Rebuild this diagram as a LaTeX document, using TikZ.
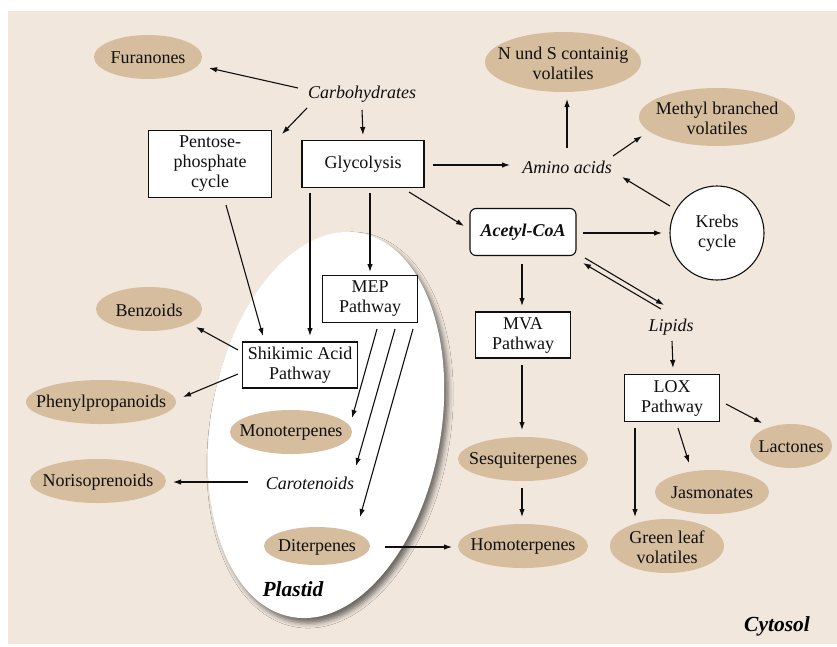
\documentclass[tikz,border=0pt]{standalone}
\usepackage{fontspec}
\setmainfont{Liberation Serif}
\usetikzlibrary{shapes.geometric,arrows.meta,calc,shadows.blur}
\definecolor{bgc}{RGB}{241,231,221}
\definecolor{prodc}{RGB}{213,189,158}
\definecolor{txtc}{RGB}{15,15,15}
\newcommand\diafont{\fontsize{18}{20}\selectfont}
\newcommand\bigfont{\fontsize{21.5}{24}\selectfont}
\tikzset{
 prod/.style={ellipse, fill=prodc, inner sep=0pt},
 ptext/.style={inner sep=0pt, align=center, font=\diafont, text=txtc},
 pbox/.style={rectangle, draw=txtc, fill=white, line width=1.1pt, inner sep=0pt, align=center, font=\diafont, text=txtc},
 lab/.style={inner sep=1pt, font=\diafont\itshape, text=txtc},
 region/.style={inner sep=1pt, font=\bigfont\bfseries\itshape, text=black},
 arr/.style={-{Latex[length=8pt,width=5.5pt]}, line width=1.1pt, draw=txtc},
}
% #1 name, #2 position, #3 width, #4 height, #5 text
\newcommand\prodnode[5]{%
  \node[prod, minimum width=#3, minimum height=#4] (#1) at #2 {};
  \node[ptext] (#1-t) at ($(#1)+(0,1)$) {#5};}
\begin{document}
\begin{tikzpicture}[x=1pt,y=-1pt]
\useasboundingbox (0,0) rectangle (837,646);
\fill[white] (0,0) rectangle (837,646);
\fill[bgc] (8,11) rectangle (837,644);
% plastid
\node[ellipse, fill=white, minimum width=230, minimum height=390, inner sep=0pt, rotate=-10,
  blur shadow={shadow xshift=4pt, shadow yshift=-5pt, shadow blur radius=5pt, shadow opacity=55}] (plastidshape) at (326,425) {};
\node[region] (plastid) at (293,589) {Plastid};
% nodes
\prodnode{furan}{(148,57)}{108}{44}{Furanones}
\node[lab] (carb) at (362,94) {Carbohydrates};
\prodnode{nands}{(563,62)}{156}{60}{N und S containig\\volatiles}
\prodnode{methyl}{(717,117)}{156}{58}{Methyl branched\\volatiles}
\node[pbox, minimum width=123, minimum height=67] (pent) at (210,164) {Pentose-\\phosphate\\cycle};
\node[pbox, minimum width=122, minimum height=47] (glyc) at (363,164) {Glycolysis};
\node[lab] (amino) at (567,167) {Amino acids};
\node[circle, draw=txtc, fill=white, line width=1.1pt, minimum size=94, inner sep=0pt, align=center, font=\diafont, text=txtc] (krebs) at (717,233) {Krebs\\cycle};
\node[pbox, rounded corners=6pt, minimum width=106, minimum height=47, font=\diafont\bfseries\itshape] (acetyl) at (523,232) {Acetyl-CoA};
\node[pbox, minimum width=95, minimum height=47] (mep) at (370,299) {MEP\\Pathway};
\node[pbox, minimum width=115, minimum height=46] (shik) at (300,365) {Shikimic Acid\\Pathway};
\prodnode{benz}{(149,309)}{106}{44}{Benzoids}
\prodnode{phen}{(101,402)}{150}{44}{Phenylpropanoids}
\prodnode{mono}{(291,432)}{122}{44}{Monoterpenes}
\node[lab] (carot) at (310,483) {Carotenoids};
\prodnode{noris}{(98,481)}{136}{44}{Norisoprenoids}
\prodnode{diter}{(317,546)}{106}{38}{Diterpenes}
\node[pbox, minimum width=95, minimum height=46] (mva) at (523,335) {MVA\\Pathway};
\node[lab] (lipids) at (671,327) {Lipids};
\node[pbox, minimum width=95, minimum height=47] (lox) at (672,398) {LOX\\Pathway};
\prodnode{sesq}{(523,459)}{130}{44}{Sesquiterpenes}
\prodnode{homo}{(523,546)}{130}{44}{Homoterpenes}
\prodnode{lact}{(791,446)}{82}{44}{Lactones}
\prodnode{jasm}{(712,492)}{114}{44}{Jasmonates}
\prodnode{green}{(667,546)}{114}{54}{Green leaf\\volatiles}
\node[region] (cytosol) at (777,626) {Cytosol};
% connectors
\draw[arr] ($(carb)+(-64,-6)$) -- ($(furan)+(61,11)$);
\draw[arr] ($(carb)+(-55,14)$) -- ($(pent)+(72,-30)$);
\draw[arr] ($(carb)+(0,16)$) -- ($(glyc)+(0,-29)$);
\draw[arr] ($(glyc)+(70,1)$) -- ($(amino)+(-57,-2)$);
\draw[arr] ($(amino)+(0,-19)$) -- ($(nands)+(4,37)$);
\draw[arr] ($(amino)+(46,-11)$) -- ($(methyl)+(-75,19)$);
\draw[arr] ($(krebs)+(-47,-27)$) -- ($(amino)+(55,10)$);
\draw[arr] ($(glyc)+(46,28)$) -- ($(acetyl)+(-59,-6)$);
\draw[arr] ($(acetyl)+(60,1)$) -- ($(krebs)+(-55,0)$);
\draw[arr] ($(acetyl)+(62,26)$) -- ($(lipids)+(-7,-22)$);
\draw[arr] ($(lipids)+(-10,-18)$) -- ($(acetyl)+(60,31)$);
\draw[arr] ($(lipids)+(1,14)$) -- ($(lox)+(1,-30)$);
\draw[arr] ($(acetyl)+(-1,32)$) -- ($(mva)+(-1,-29)$);
\draw[arr] ($(mva)+(-1,30)$) -- ($(sesq)+(-1,-29)$);
\draw[arr] ($(sesq)+(-1,29)$) -- ($(homo)+(-1,-29)$);
\draw[arr] ($(diter)+(68,1)$) -- ($(homo)+(-71,1)$);
\draw[arr] ($(lox)+(54,6)$) -- ($(lact)+(-29,-23)$);
\draw[arr] ($(lox)+(6,30)$) -- ($(jasm)+(-23,-29)$);
\draw[arr] ($(lox)+(-37,30)$) -- ($(green)+(-32,-29)$);
\draw[arr] ($(glyc)+(7,29)$) -- ($(mep)+(0,-27)$);
\draw[arr] ($(glyc)+(-53,29)$) -- ($(shik)+(10,-29)$);
\draw[arr] ($(pent)+(16,41)$) -- ($(shik)+(-37,-29)$);
\draw[arr] ($(shik)+(-62,-15)$) -- ($(benz)+(47,18)$);
\draw[arr] ($(shik)+(-62,9)$) -- ($(phen)+(82,-5)$);
\draw[arr] ($(mep)+(7,30)$) -- ($(mono)+(61,-14)$);
\draw[arr] ($(mep)+(25,30)$) -- ($(carot)+(46,-17)$);
\draw[arr] ($(mep)+(43,30)$) -- ($(diter)+(43,-29)$);
\draw[arr] ($(carot)+(-62,-1)$) -- ($(noris)+(75,1)$);
\end{tikzpicture}
\end{document}
